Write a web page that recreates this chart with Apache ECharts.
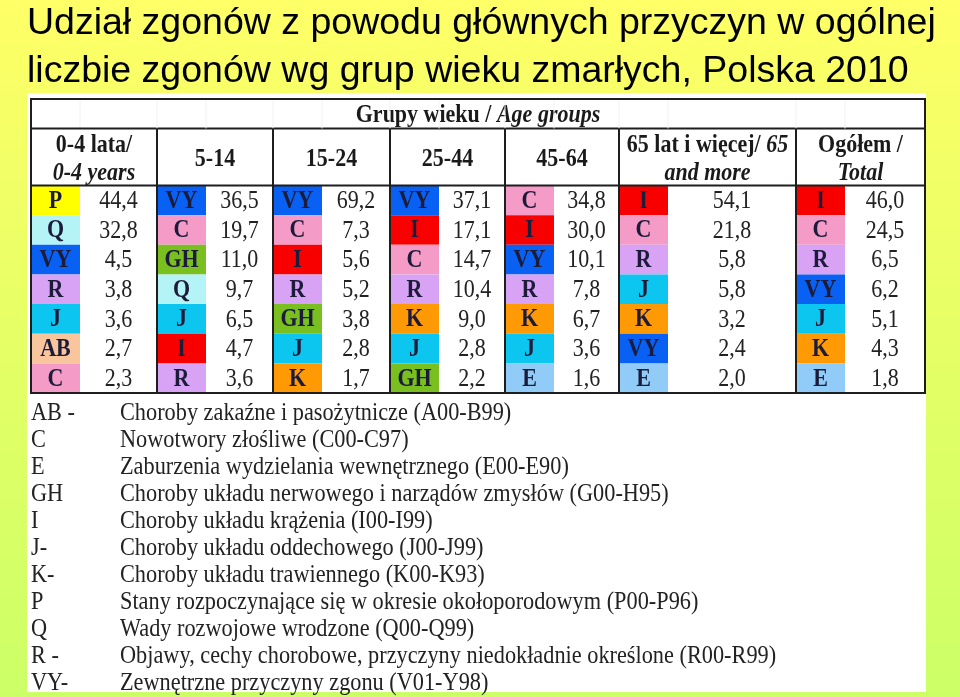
<!DOCTYPE html>
<html><head><meta charset="utf-8">
<script src="https://cdn.jsdelivr.net/npm/echarts@6/dist/echarts.min.js"></script>
<style>html,body{margin:0;padding:0;background:#fff;} #c{width:960px;height:697px;}</style>
</head><body><div id="c"></div>
<script>
// ---------- DATA ----------
const titleText = 'Udział zgonów z powodu głównych przyczyn w ogólnej\nliczbie zgonów wg grup wieku zmarłych, Polska 2010';
const topHeaderPL = 'Grupy wieku / ';
const topHeaderEN = 'Age groups';
const groupHeaderPL = ['0-4 lata/', '5-14', '15-24', '25-44', '45-64', '65 lat i więcej/ ', 'Ogółem /'];
const groupHeaderEN = ['0-4 years', '', '', '', '', '65\nand more', 'Total'];

const codes_0_4   = ['P', 'Q', 'VY', 'R', 'J', 'AB', 'C'];
const vals_0_4    = [44.4, 32.8, 4.5, 3.8, 3.6, 2.7, 2.3];
const codes_5_14  = ['VY', 'C', 'GH', 'Q', 'J', 'I', 'R'];
const vals_5_14   = [36.5, 19.7, 11.0, 9.7, 6.5, 4.7, 3.6];
const codes_15_24 = ['VY', 'C', 'I', 'R', 'GH', 'J', 'K'];
const vals_15_24  = [69.2, 7.3, 5.6, 5.2, 3.8, 2.8, 1.7];
const codes_25_44 = ['VY', 'I', 'C', 'R', 'K', 'J', 'GH'];
const vals_25_44  = [37.1, 17.1, 14.7, 10.4, 9.0, 2.8, 2.2];
const codes_45_64 = ['C', 'I', 'VY', 'R', 'K', 'J', 'E'];
const vals_45_64  = [34.8, 30.0, 10.1, 7.8, 6.7, 3.6, 1.6];
const codes_65    = ['I', 'C', 'R', 'J', 'K', 'VY', 'E'];
const vals_65     = [54.1, 21.8, 5.8, 5.8, 3.2, 2.4, 2.0];
const codes_total = ['I', 'C', 'R', 'VY', 'J', 'K', 'E'];
const vals_total  = [46.0, 24.5, 6.5, 6.2, 5.1, 4.3, 1.8];

const legendCodes = ['AB -', 'C', 'E', 'GH', 'I', 'J-', 'K-', 'P', 'Q', 'R -', 'VY-'];
const legendDescs = [
  'Choroby zakaźne i pasożytnicze (A00-B99)',
  'Nowotwory złośliwe (C00-C97)',
  'Zaburzenia wydzielania wewnętrznego (E00-E90)',
  'Choroby układu nerwowego i narządów zmysłów (G00-H95)',
  'Choroby układu krążenia (I00-I99)',
  'Choroby układu oddechowego (J00-J99)',
  'Choroby układu trawiennego (K00-K93)',
  'Stany rozpoczynające się w okresie okołoporodowym (P00-P96)',
  'Wady rozwojowe wrodzone (Q00-Q99)',
  'Objawy, cechy chorobowe, przyczyny niedokładnie określone (R00-R99)',
  'Zewnętrzne przyczyny zgonu (V01-Y98)'
];

// ---------- STYLE / LAYOUT ----------
const codeColors = {
  P: '#FFFF00', Q: '#B5F4F6', VY: '#0861F2', R: '#D8A3F5', J: '#0CC6F0',
  AB: '#F9C59C', C: '#F59BC8', GH: '#79BF1F', I: '#F90000', K: '#FF9A05', E: '#90CCF7'
};
const COL_EDGES = [0, 126, 242, 359, 474, 588, 765, 894];
const CODE_W = 49;
const H1 = 29.5, H2 = 57, ROW_H = 29.65;
const SERIF = '"Liberation Serif", "Times New Roman", serif';
const SANS = '"Liberation Sans", Arial, sans-serif';
const LINE = '#1e1e1e';
const TXT_SY = 1.14;

const allCodes = [codes_0_4, codes_5_14, codes_15_24, codes_25_44, codes_45_64, codes_65, codes_total];
const allVals = [vals_0_4, vals_5_14, vals_15_24, vals_25_44, vals_45_64, vals_65, vals_total];

const cellData = [], cellCodes = [];
allVals.forEach((vals, g) => vals.forEach((v, r) => {
  cellData.push([g, r, v]);
  cellCodes.push(allCodes[g][r]);
}));
const fmt = v => v.toFixed(1).replace('.', ',');

function renderCell(params, api) {
  const g = api.value(0), r = api.value(1), v = api.value(2);
  const code = cellCodes[params.dataIndex];
  const x0 = COL_EDGES[g], xm = x0 + CODE_W, x1 = COL_EDGES[g + 1];
  const y0 = H1 + H2 + r * ROW_H, y1 = y0 + ROW_H;
  const p0 = api.coord([x0, y0]), pm = api.coord([xm, y1]), p1 = api.coord([x1, y1]);
  return {
    type: 'group',
    children: [
      { type: 'rect', shape: { x: p0[0], y: p0[1], width: pm[0] - p0[0], height: pm[1] - p0[1] },
        style: { fill: codeColors[code] } },
      { type: 'text', x: (p0[0] + pm[0]) / 2, y: (p0[1] + pm[1]) / 2 + 1, scaleY: TXT_SY,
        style: { text: code, fill: '#1c1c3a', font: 'bold 22px ' + SERIF, align: 'center', verticalAlign: 'middle' } },
      { type: 'text', x: (pm[0] + p1[0]) / 2, y: (p0[1] + p1[1]) / 2 + 1, scaleY: TXT_SY,
        style: { text: fmt(v), fill: '#222', font: '22px ' + SERIF, align: 'center', verticalAlign: 'middle' } }
    ]
  };
}

function renderHeader(params, api) {
  const g = api.value(0);
  const x0 = COL_EDGES[g], x1 = COL_EDGES[g + 1];
  const a = api.coord([x0, H1]), b = api.coord([x1, H1 + H2]);
  const pl = groupHeaderPL[g], en = groupHeaderEN[g];
  let text;
  if (!en) text = '{b|' + pl + '}';
  else if (en.indexOf('\n') >= 0) {
    const parts = en.split('\n');
    text = '{b|' + pl + '}{bi|' + parts[0] + '}\n{bi|' + parts[1] + '}';
  } else text = '{b|' + pl + '}\n{bi|' + en + '}';
  const children = [
    { type: 'text', x: (a[0] + b[0]) / 2, y: (a[1] + b[1]) / 2 + 2.5, scaleY: TXT_SY,
      style: { text: text, align: 'center', verticalAlign: 'middle', fill: '#1a1a1a',
        rich: {
          b: { font: 'bold 22px ' + SERIF, fill: '#1a1a1a', lineHeight: 24 },
          bi: { font: 'italic bold 22px ' + SERIF, fill: '#1a1a1a', lineHeight: 24 }
        } } }
  ];
  const xm = x0 + CODE_W;
  const f0 = api.coord([xm, 0]), f1 = api.coord([xm, H1]);
  children.push({ type: 'line', shape: { x1: f0[0], y1: f0[1], x2: f1[0], y2: f1[1] }, style: { stroke: '#f2f2f2', lineWidth: 1 } });
  if (g > 0) {
    const e0 = api.coord([x0, 0]), e1 = api.coord([x0, H1]);
    children.push({ type: 'line', shape: { x1: e0[0], y1: e0[1], x2: e1[0], y2: e1[1] }, style: { stroke: '#f2f2f2', lineWidth: 1 } });
    const s0 = api.coord([x0, H1]), s1 = api.coord([x0, H1 + H2 + 7 * ROW_H]);
    children.push({ type: 'line', shape: { x1: s0[0], y1: s0[1], x2: s1[0], y2: s1[1] }, style: { stroke: LINE, lineWidth: 2 } });
  }
  if (g === 0) {
    const tl = api.coord([0, 0]), br = api.coord([894, H1 + H2 + 7 * ROW_H]);
    const h1 = api.coord([0, H1]), h1r = api.coord([894, H1]);
    const h2 = api.coord([0, H1 + H2]), h2r = api.coord([894, H1 + H2]);
    children.push(
      { type: 'rect', shape: { x: tl[0], y: tl[1], width: br[0] - tl[0], height: br[1] - tl[1] }, style: { fill: null, stroke: LINE, lineWidth: 2 }, z2: 10 },
      { type: 'line', shape: { x1: h1[0], y1: h1[1], x2: h1r[0], y2: h1r[1] }, style: { stroke: LINE, lineWidth: 2 } },
      { type: 'line', shape: { x1: h2[0], y1: h2[1], x2: h2r[0], y2: h2r[1] }, style: { stroke: LINE, lineWidth: 2 } },
      { type: 'text', x: (tl[0] + br[0]) / 2, y: (tl[1] + h1[1]) / 2 + 1.5, scaleY: TXT_SY,
        style: { text: '{b|' + topHeaderPL + '}{bi|' + topHeaderEN + '}', align: 'center', verticalAlign: 'middle',
          rich: { b: { font: 'bold 22px ' + SERIF, fill: '#1a1a1a' }, bi: { font: 'italic bold 22px ' + SERIF, fill: '#1a1a1a' } } } }
    );
  }
  return { type: 'group', children: children };
}

const legendGraphics = [];
legendCodes.forEach((c, i) => {
  const y = 413.5 + i * 27;
  legendGraphics.push(
    { type: 'text', x: 31, y: y, z: 5, scaleY: 1.1, style: { text: c, font: '22.3px ' + SERIF, fill: '#222', verticalAlign: 'middle' } },
    { type: 'text', x: 120, y: y, z: 5, scaleY: 1.1, style: { text: legendDescs[i], font: '22.3px ' + SERIF, fill: '#222', verticalAlign: 'middle' } }
  );
});

const chart = echarts.init(document.getElementById('c'));
chart.setOption({
  animation: false,
  backgroundColor: { type: 'linear', x: 0, y: 0, x2: 0, y2: 1,
    colorStops: [{ offset: 0, color: '#FFFF66' }, { offset: 1, color: '#CCFF66' }] },
  title: { text: titleText, left: 27, top: 0, padding: 0,
    textStyle: { fontFamily: SANS, fontSize: 37.5, fontWeight: 'normal', color: '#000', lineHeight: 48 } },
  graphic: [
    { type: 'rect', z: 0, shape: { x: 27, y: 93, width: 899, height: 599 }, style: { fill: '#fff' } }
  ].concat(legendGraphics),
  grid: { left: 31, top: 99, width: 894, height: 294 },
  xAxis: { type: 'value', min: 0, max: 894, show: false },
  yAxis: { type: 'value', min: 0, max: 294, inverse: true, show: false },
  series: [
    { type: 'custom', renderItem: renderCell, data: cellData, z: 3 },
    { type: 'custom', renderItem: renderHeader, data: groupHeaderPL.map((_, g) => [g]), z: 4 }
  ]
});
</script>
</body></html>
